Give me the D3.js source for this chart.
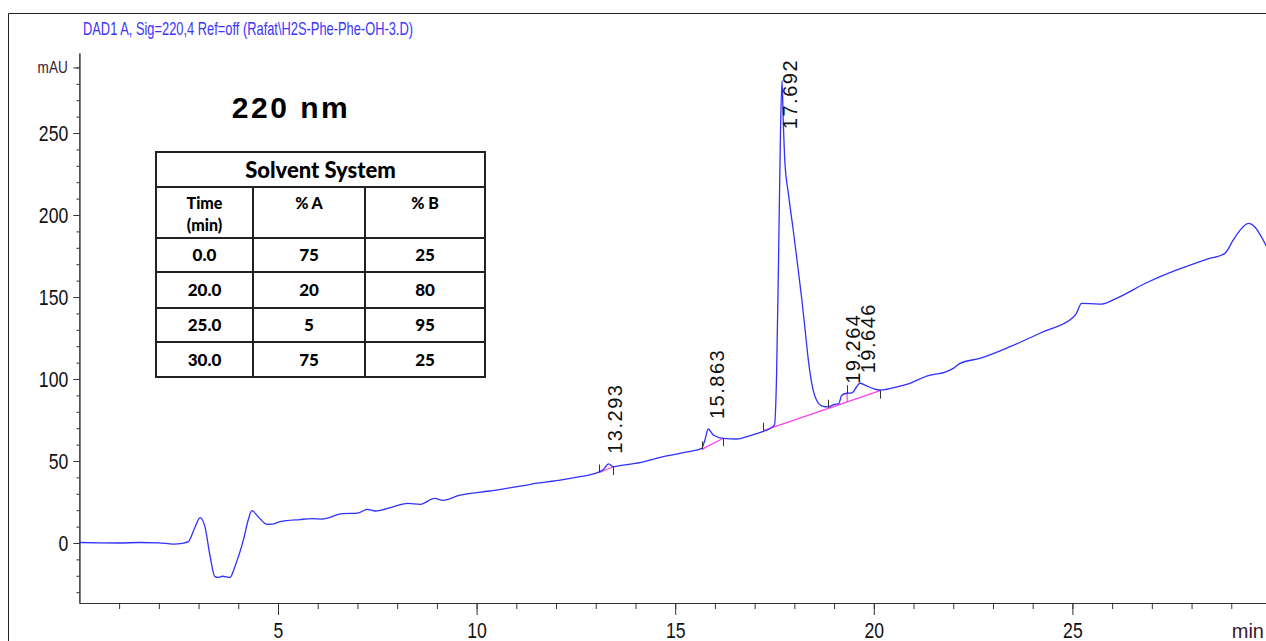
<!DOCTYPE html>
<html>
<head>
<meta charset="utf-8">
<script src="https://cdn.jsdelivr.net/npm/d3@7"></script>
<style>
  body { margin: 0; background: #fff; }
  svg { display: block; }
</style>
</head>
<body>
<div id="chart"></div>
<script>
// chromatogram trace (time in min, signal in mAU)
const retTime = [0.0, 0.5, 1.0, 1.5, 2.0, 2.36, 2.6, 2.74, 2.9, 3.04, 3.16, 3.29, 3.41, 3.5, 3.6, 3.79, 3.92, 4.13, 4.25, 4.34,
  4.5, 4.72, 4.85, 5.05, 5.55, 5.85, 6.1, 6.63, 7.0, 7.25, 7.45, 7.92, 8.27, 8.58, 8.94, 9.15, 9.56, 10.33, 10.94, 11.36,
  12.18, 12.6, 13.1, 13.2, 13.32, 13.44, 13.6, 14.11, 14.7, 15.3, 15.67, 15.75, 15.83, 15.96, 16.21, 16.55, 16.85, 17.13, 17.4, 17.5,
  17.55, 17.6, 17.65, 17.69, 17.72, 17.76, 17.85, 17.96, 18.1, 18.19, 18.27, 18.35, 18.44, 18.56, 18.7, 18.85, 19.0, 19.12, 19.19, 19.32,
  19.45, 19.57, 19.65, 19.78, 20.0, 20.16, 20.66, 20.91, 21.33, 21.83, 22.0, 22.17, 22.67, 23.43, 24.27, 25.02, 25.1, 25.23, 25.44, 25.74,
  26.11, 26.87, 27.63, 28.38, 28.84, 29.05, 29.2, 29.43, 29.6, 29.75, 29.95];
const signal = [0.3, 0.1, 0.0, 0.3, 0.1, -0.7, -0.2, 0.8, 9, 15.5, 10, -8, -20.5, -21, -20.3, -21, -14, 2, 14, 19.7,
  16, 11.4, 11.5, 13, 14.3, 14.8, 14.6, 17.9, 18.2, 20.5, 19.5, 22.2, 24.2, 23.6, 27.2, 26, 29, 31.7, 34, 35.8,
  38.6, 40.4, 43.5, 45, 48.3, 46.5, 47.2, 49, 52.6, 55.5, 57.7, 63, 69.5, 65.8, 63.8, 63.4, 65.2, 67.3, 70, 72,
  100, 170, 250, 282, 258, 233, 213, 193, 166, 148, 130, 112, 97, 87, 83.5, 83, 84.5, 85, 90, 91.3,
  91.5, 95.3, 97.4, 96.3, 94, 93.3, 95.7, 97.4, 101.8, 104.5, 106.5, 109.5, 112.6, 119.7, 128.9, 137.6, 140, 146.1, 146, 145.7,
  149.2, 158.7, 166.5, 173, 176.6, 184.8, 190, 194.9, 192.5, 187, 178];

// labelled peaks
const peakTime = [13.293, 15.863, 17.692, 19.264, 19.646];
const peakHeight = [48.3, 69.5, 282, 91, 97.4];

// integration baselines [start time, start mAU, end time, end mAU]
const baseStart = [13.09, 15.67, 17.22];
const baseStartVal = [43, 57.1, 68.5];
const baseEnd = [13.43, 16.21, 20.16];
const baseEndVal = [46.3, 63.9, 92.9];
// drop line between the two small peaks
const dropTime = [19.33];
const dropLow = [86.0];
const dropHigh = [91.3];

// integration event marks
const eventTime = [13.09, 13.43, 15.67, 16.21, 17.22, 18.85, 19.33, 20.16];
const eventVal = [43, 46.3, 57.1, 63.9, 68.5, 82.5, 91.3, 92.9];
const eventDir = ['up', 'down', 'up', 'down', 'up', 'up', 'up', 'down'];

// axis ticks
const xMajor = [5, 10, 15, 20, 25];
const xMinor = d3.range(1, 30);
const yMajor = [0, 50, 100, 150, 200, 250, 290];
const yMinor = d3.range(-30, 291, 10);

// solvent table
const tableTitle = 'Solvent System';
const colHeads = [['Time', '(min)'], ['% A'], ['% B']];
const gradTime = ['0.0', '20.0', '25.0', '30.0'];
const gradA = ['75', '20', '5', '75'];
const gradB = ['25', '80', '95', '25'];

const titleText = 'DAD1 A, Sig=220,4 Ref=off (Rafat\\H2S-Phe-Phe-OH-3.D)';
const waveText = '220 nm';
const xUnit = 'min';

const W = 1266, H = 641;
const narrow = "'Liberation Sans Narrow', 'Arial Narrow', 'Liberation Sans', sans-serif";

const svg = d3.select('#chart').append('svg')
  .attr('width', W)
  .attr('height', H);
svg.append('rect').attr('width', W).attr('height', H).attr('fill', '#fff');

const x = d3.scaleLinear().domain([0, 30]).range([79.4, 1271]);
const y = d3.scaleLinear().domain([-36.6, 298.8]).range([603, 53]);

// outer frame (left + top)
svg.append('path')
  .attr('d', 'M8.5,' + H + 'V13.5H' + W)
  .attr('fill', 'none')
  .attr('stroke', '#222')
  .attr('stroke-width', 1);

// title
svg.append('text')
  .attr('x', 83)
  .attr('y', 35)
  .attr('textLength', 330)
  .attr('lengthAdjust', 'spacingAndGlyphs')
  .style('font-family', narrow)
  .style('font-size', '19px')
  .style('fill', '#3d33ff')
  .text(titleText);

/*****************************************************************
 * Axes
 *****************************************************************/
function styleAxis(g) {
  g.select('.domain').attr('stroke', '#333');
  g.selectAll('.tick line').attr('stroke', '#333');
}

svg.append('g')
  .attr('transform', 'translate(0,603)')
  .call(d3.axisBottom(x).tickValues(xMinor).tickSize(6).tickFormat('').tickSizeOuter(0))
  .call(styleAxis);

const xAxis = svg.append('g')
  .attr('transform', 'translate(0,603)')
  .call(d3.axisBottom(x).tickValues(xMajor).tickSize(12).tickPadding(7).tickSizeOuter(0))
  .call(styleAxis);
xAxis.selectAll('text')
  .style('font-family', narrow)
  .style('font-size', '22px')
  .style('fill', '#111')
  .attr('transform', 'scale(0.8,1)');

// unit label, pushed in so it stays on the page
svg.append('text')
  .attr('x', 1264)
  .attr('y', 638)
  .style('text-anchor', 'end')
  .style('font-family', narrow)
  .style('font-size', '20px')
  .style('fill', '#3a1830')
  .text(xUnit);

svg.append('g')
  .attr('transform', 'translate(79.4,0)')
  .call(d3.axisLeft(y).tickValues(yMinor).tickSize(3).tickFormat('').tickSizeOuter(0))
  .call(styleAxis);

const yAxis = svg.append('g')
  .attr('transform', 'translate(79.4,0)')
  .call(d3.axisLeft(y).tickValues(yMajor).tickSize(6).tickSizeOuter(0)
    .tickFormat(d => d === 290 ? 'mAU' : d))
  .call(styleAxis);
yAxis.selectAll('text')
  .attr('x', -14)
  .style('font-family', narrow)
  .style('font-size', '22px')
  .style('fill', '#111')
  .attr('transform', 'scale(0.8,1)');
yAxis.selectAll('.tick').filter(d => d === 290).select('text')
  .attr('x', -14.5)
  .style('font-size', '17px')
  .style('fill', '#3a1830');

/*****************************************************************
 * Trace, baselines, events
 *****************************************************************/
const trace = d3.zip(retTime, signal);
const line = d3.line()
  .x(d => x(d[0]))
  .y(d => y(d[1]))
  .curve(d3.curveMonotoneX);

svg.append('g').selectAll('line.base')
  .data(d3.range(baseStart.length))
  .enter()
  .append('line')
  .attr('x1', i => x(baseStart[i]))
  .attr('y1', i => y(baseStartVal[i]))
  .attr('x2', i => x(baseEnd[i]))
  .attr('y2', i => y(baseEndVal[i]))
  .attr('stroke', '#ff3cf0')
  .attr('stroke-width', 1.2);

svg.append('g').selectAll('line.drop')
  .data(d3.range(dropTime.length))
  .enter()
  .append('line')
  .attr('x1', i => x(dropTime[i]))
  .attr('x2', i => x(dropTime[i]))
  .attr('y1', i => y(dropLow[i]))
  .attr('y2', i => y(dropHigh[i]))
  .attr('stroke', '#ff3cf0')
  .attr('stroke-width', 1.2);

svg.append('path')
  .datum(trace)
  .attr('d', line)
  .attr('fill', 'none')
  .attr('stroke', '#3030ff')
  .attr('stroke-width', 1.3);

svg.append('g').selectAll('line.event')
  .data(d3.range(eventTime.length))
  .enter()
  .append('line')
  .attr('x1', i => Math.round(x(eventTime[i])) + 0.5)
  .attr('x2', i => Math.round(x(eventTime[i])) + 0.5)
  .attr('y1', i => y(eventVal[i]))
  .attr('y2', i => y(eventVal[i]) + (eventDir[i] === 'up' ? -8 : 8))
  .attr('stroke', '#333')
  .attr('stroke-width', 1);

// peak retention time labels
svg.append('g').selectAll('text.peak')
  .data(d3.range(peakTime.length))
  .enter()
  .append('text')
  .style('font-family', "'Liberation Sans', Arial, sans-serif")
  .style('font-size', '20px')
  .style('letter-spacing', '1.5px')
  .style('fill', '#111')
  .text(i => peakTime[i].toFixed(3))
  .each(function (i) {
    const len = this.getComputedTextLength();
    const px = x(peakTime[i]) + 15;
    let py = y(peakHeight[i]) - 10;
    if (py - len < 59) { py = 59 + len; }
    d3.select(this).attr('transform', 'translate(' + px + ',' + py + ') rotate(-90)');
  });

/*****************************************************************
 * Annotations
 *****************************************************************/
svg.append('text')
  .attr('x', 291)
  .attr('y', 118)
  .style('text-anchor', 'middle')
  .style('font-family', "'Liberation Sans', Arial, sans-serif")
  .style('font-weight', 'bold')
  .style('font-size', '30px')
  .style('letter-spacing', '2.5px')
  .style('fill', '#000')
  .text(waveText);

const colEdges = [156, 253, 365, 485];
const rowEdges = [152, 187, 238, 272, 308, 342, 377];
const tbl = svg.append('g').attr('class', 'solvent-table');
const cellFont = "Lato, 'Open Sans', sans-serif";

tbl.append('rect')
  .attr('x', colEdges[0]).attr('y', rowEdges[0])
  .attr('width', colEdges[3] - colEdges[0])
  .attr('height', rowEdges[6] - rowEdges[0])
  .attr('fill', '#fff')
  .attr('stroke', '#222')
  .attr('stroke-width', 2);
rowEdges.slice(1, 6).forEach(ry => {
  tbl.append('line')
    .attr('x1', colEdges[0]).attr('x2', colEdges[3])
    .attr('y1', ry).attr('y2', ry)
    .attr('stroke', '#222').attr('stroke-width', 2);
});
colEdges.slice(1, 3).forEach(cx => {
  tbl.append('line')
    .attr('x1', cx).attr('x2', cx)
    .attr('y1', rowEdges[1]).attr('y2', rowEdges[6])
    .attr('stroke', '#222').attr('stroke-width', 2);
});

tbl.append('text')
  .attr('x', (colEdges[0] + colEdges[3]) / 2)
  .attr('y', 178)
  .style('text-anchor', 'middle')
  .style('font-family', cellFont)
  .style('font-weight', 900)
  .style('font-size', '22px')
  .text(tableTitle);

colHeads.forEach((lines, c) => {
  lines.forEach((s, k) => {
    tbl.append('text')
      .attr('x', (colEdges[c] + colEdges[c + 1]) / 2)
      .attr('y', 209 + k * 22)
      .style('text-anchor', 'middle')
      .style('font-family', cellFont)
      .style('font-weight', 900)
      .style('font-size', '16px')
      .text(s);
  });
});

[gradTime, gradA, gradB].forEach((col, c) => {
  col.forEach((s, r) => {
    tbl.append('text')
      .attr('x', (colEdges[c] + colEdges[c + 1]) / 2)
      .attr('y', (rowEdges[r + 2] + rowEdges[r + 3]) / 2 + 6)
      .style('text-anchor', 'middle')
      .style('font-family', cellFont)
      .style('font-weight', 900)
      .style('font-size', '17px')
      .text(s);
  });
});
</script>
</body>
</html>
